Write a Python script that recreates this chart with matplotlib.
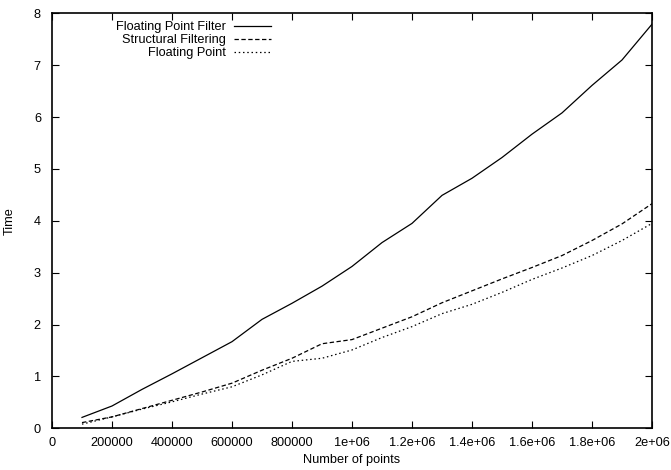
import matplotlib
matplotlib.use("Agg")
import matplotlib.pyplot as plt
from matplotlib.ticker import FixedLocator

plt.rcParams['font.family'] = ['Liberation Sans', 'DejaVu Sans']

npoints = [100000, 200000, 300000, 400000, 500000, 600000, 700000, 800000, 900000, 1000000,
           1100000, 1200000, 1300000, 1400000, 1500000, 1600000, 1700000, 1800000, 1900000, 2000000]
fp_filter = [0.21, 0.43, 0.75, 1.05, 1.36, 1.67, 2.10, 2.41, 2.74, 3.12,
             3.58, 3.95, 4.49, 4.82, 5.22, 5.67, 6.08, 6.61, 7.10, 7.79]
structural = [0.11, 0.22, 0.38, 0.54, 0.70, 0.87, 1.12, 1.35, 1.63, 1.71,
              1.93, 2.15, 2.42, 2.65, 2.88, 3.10, 3.33, 3.62, 3.94, 4.33]
floating = [0.08, 0.22, 0.37, 0.51, 0.66, 0.80, 1.03, 1.29, 1.35, 1.51,
            1.75, 1.96, 2.21, 2.39, 2.62, 2.87, 3.09, 3.33, 3.62, 3.95]

xticks = [0, 200000, 400000, 600000, 800000, 1000000, 1200000, 1400000, 1600000, 1800000, 2000000]
xticklabels = ['0', '200000', '400000', '600000', '800000', '1e+06', '1.2e+06', '1.4e+06',
               '1.6e+06', '1.8e+06', '2e+06']
yticks = [0, 1, 2, 3, 4, 5, 6, 7, 8]

fs = 9.2

fig = plt.figure(figsize=(6.71, 4.70), dpi=100)
ax = fig.add_axes([52 / 671, 1 - 428.3 / 470, 600 / 671, 415 / 470])

ax.plot(npoints, fp_filter, color='black', lw=0.9, label='Floating Point Filter')
ax.plot(npoints, structural, color='black', lw=0.9, dashes=(3.5, 2), label='Structural Filtering')
ax.plot(npoints, floating, color='black', lw=0.9, dashes=(1.2, 2.2), label='Floating Point')

ax.set_xlim(0, 2000000)
ax.set_ylim(0, 8)
ax.xaxis.set_major_locator(FixedLocator(xticks))
ax.set_xticklabels(xticklabels)
ax.yaxis.set_major_locator(FixedLocator(yticks))
ax.tick_params(direction='in', length=5, width=0.8, labelsize=fs, top=True, right=True, pad=6)
ax.tick_params(axis='y', pad=8)
for sp in ax.spines.values():
    sp.set_linewidth(1.2)

ax.set_xlabel('Number of points', fontsize=fs, labelpad=4)
ax.set_ylabel('Time', fontsize=fs, labelpad=13)

ax.legend(loc='upper right', bbox_to_anchor=(271 / 671, 1 - 21 / 470), bbox_transform=fig.transFigure,
          frameon=False, markerfirst=False, fontsize=fs, handlelength=2.9, handletextpad=0.6,
          labelspacing=0.08, borderpad=0, borderaxespad=0)

fig.savefig('out.png', dpi=100)
